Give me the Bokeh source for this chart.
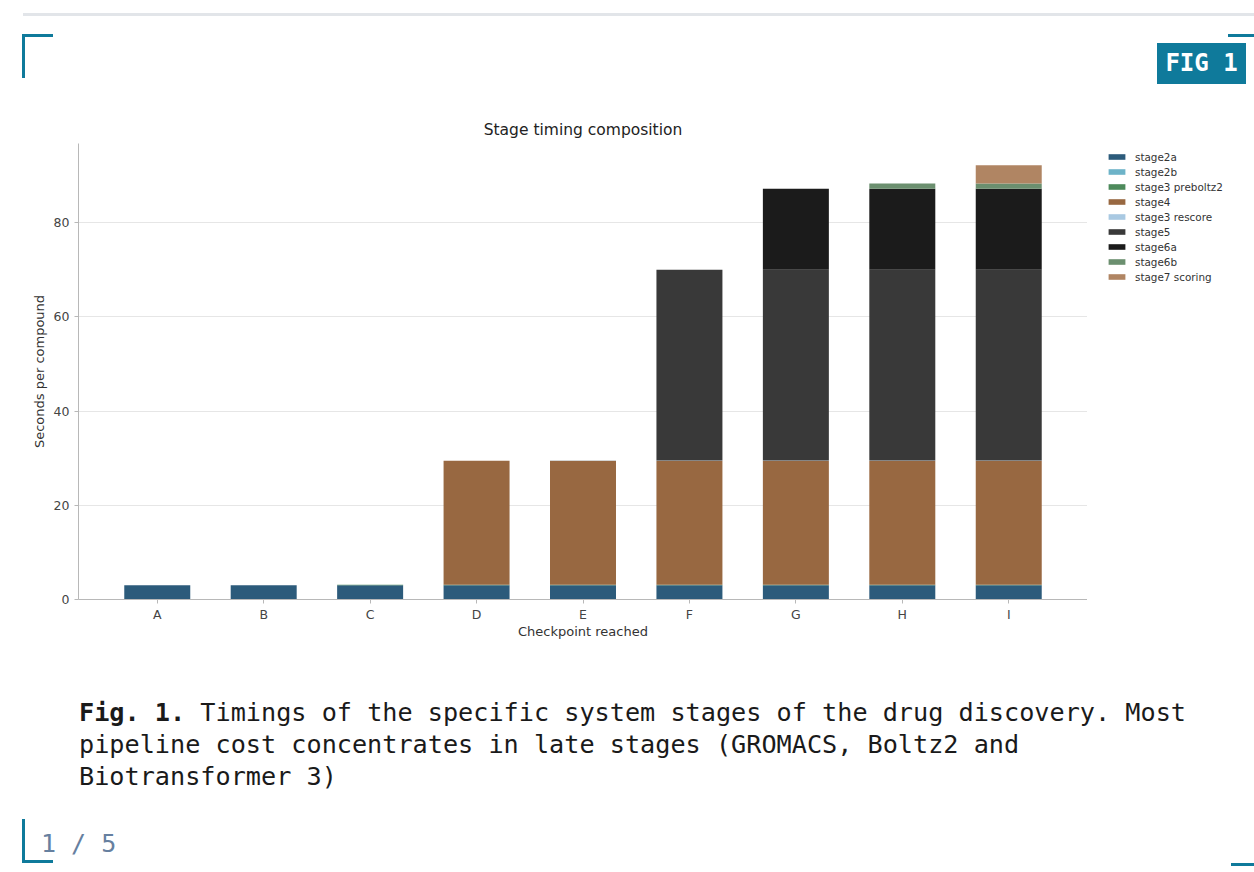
from bokeh.plotting import figure
from bokeh.models import (Div, Legend, LegendItem, ColumnDataSource, FactorRange,
                          Range1d, FixedTicker)
from bokeh.layouts import column, row
from bokeh.embed import file_html
from bokeh.resources import INLINE

# ---------------- data ----------------
checkpoints = ["A", "B", "C", "D", "E", "F", "G", "H", "I"]
stage_names = ["stage2a", "stage2b", "stage3 preboltz2", "stage4", "stage3 rescore",
               "stage5", "stage6a", "stage6b", "stage7 scoring"]
stage2a = [3.0, 3.0, 3.0, 3.0, 3.0, 3.0, 3.0, 3.0, 3.0]
stage2b = [0.0, 0.05, 0.05, 0.05, 0.05, 0.05, 0.05, 0.05, 0.05]
stage3_preboltz2 = [0.0, 0.0, 0.1, 0.1, 0.1, 0.1, 0.1, 0.1, 0.1]
stage4 = [0.0, 0.0, 0.0, 26.3, 26.3, 26.3, 26.3, 26.3, 26.3]
stage3_rescore = [0.0, 0.0, 0.0, 0.0, 0.05, 0.05, 0.05, 0.05, 0.05]
stage5 = [0.0, 0.0, 0.0, 0.0, 0.0, 40.5, 40.5, 40.5, 40.5]
stage6a = [0.0, 0.0, 0.0, 0.0, 0.0, 0.0, 17.2, 17.2, 17.2]
stage6b = [0.0, 0.0, 0.0, 0.0, 0.0, 0.0, 0.0, 1.1, 1.1]
stage7_scoring = [0.0, 0.0, 0.0, 0.0, 0.0, 0.0, 0.0, 0.0, 3.9]
stage_colors = ["#2c5b7b", "#6db3c8", "#4d8a5b", "#986841", "#a9c9e2",
                "#393939", "#1b1b1b", "#6b8f6f", "#b08563"]
y_ticks = [0, 20, 40, 60, 80]

series = [stage2a, stage2b, stage3_preboltz2, stage4, stage3_rescore,
          stage5, stage6a, stage6b, stage7_scoring]
data = {"checkpoint": checkpoints}
for name, vals in zip(stage_names, series):
    data[name] = vals
source = ColumnDataSource(data)

FONT = "DejaVu Sans"

# ---------------- main chart ----------------
p = figure(
    x_range=FactorRange(*checkpoints, range_padding=0.24, range_padding_units="absolute"),
    y_range=Range1d(0, 96.8),
    width=1087, height=552,
    output_backend="svg", toolbar_location=None,
    min_border_left=78, min_border_right=0, min_border_top=35, min_border_bottom=61,
    title="Stage timing composition",
    margin=0,
)
p.title.align = "center"
p.title.text_font = FONT
p.title.text_font_size = "15.5px"
p.title.text_font_style = "normal"
p.title.text_color = "#222222"

renderers = p.vbar_stack(stage_names, x="checkpoint", width=0.62, color=stage_colors,
                         source=source, line_color=None)

p.outline_line_color = None
p.xgrid.grid_line_color = None
p.ygrid.grid_line_color = "#e6e6e6"
p.ygrid.grid_line_width = 1
p.yaxis.ticker = FixedTicker(ticks=y_ticks)

for ax in (p.xaxis[0], p.yaxis[0]):
    ax.axis_line_color = "#b8b8b8"
    ax.major_tick_line_color = "#b8b8b8"
    ax.minor_tick_line_color = None
    ax.major_tick_out = 4
    ax.major_tick_in = 0
    ax.major_label_text_font = FONT
    ax.major_label_text_font_size = "12.5px"
    ax.major_label_text_color = "#444444"
    ax.axis_label_text_font = FONT
    ax.axis_label_text_font_size = "13px"
    ax.axis_label_text_font_style = "normal"
    ax.axis_label_text_color = "#333333"

p.xaxis.axis_label = "Checkpoint reached"
p.yaxis.axis_label = "Seconds per compound"
p.xaxis.major_label_standoff = 3
p.xaxis.axis_label_standoff = -1
p.yaxis.major_label_standoff = 5
p.yaxis.axis_label_standoff = 4

# ---------------- legend panel (same series, zero-width, kept out of view) ----------------
lg = figure(
    x_range=FactorRange(*checkpoints), y_range=Range1d(-1000, -999),
    width=167, height=552, output_backend="svg", toolbar_location=None,
    x_axis_location=None, y_axis_location=None,
    min_border_left=0, min_border_right=0, min_border_top=0, min_border_bottom=0,
    margin=0,
)
lg.outline_line_color = None
lg.grid.visible = False
lg_renderers = lg.vbar_stack(stage_names, x="checkpoint", width=0.0, color=stage_colors,
                             source=source, line_color=None)

items = [LegendItem(label=n, renderers=[r]) for n, r in zip(stage_names, lg_renderers)]
legend = Legend(items=items, location=(19, 315), orientation="vertical")
legend.label_text_font = FONT
legend.label_text_font_size = "10.4px"
legend.label_text_color = "#333333"
legend.glyph_width = 21
legend.glyph_height = 7
legend.label_height = 15
legend.label_standoff = 8
legend.spacing = 0
legend.padding = 0
legend.margin = 0
legend.border_line_color = None
legend.background_fill_alpha = 0
lg.add_layout(legend, "center")

# ---------------- page decorations ----------------
TEAL = "#0f7a9b"
top_html = f"""
<div style="position:relative;width:1254px;height:108px;">
 <div style="position:absolute;left:23px;top:13px;width:1231px;height:3px;background:#e2e5e9;"></div>
 <div style="position:absolute;left:22px;top:34px;width:31px;height:44px;border-left:3px solid {TEAL};border-top:3px solid {TEAL};"></div>
 <div style="position:absolute;left:1228px;top:34px;width:26px;height:3px;background:{TEAL};"></div>
 <div style="position:absolute;left:1157px;top:43px;width:89px;height:41px;background:{TEAL};color:#ffffff;font-family:'DejaVu Sans Mono';font-weight:bold;font-size:24px;line-height:41px;text-align:center;">FIG 1</div>
</div>
"""
bottom_html = f"""
<div style="position:relative;width:1254px;height:212px;">
 <div style="position:absolute;left:79px;top:37px;font-family:'DejaVu Sans Mono';font-size:25.2px;line-height:32px;color:#1a1a1a;white-space:nowrap;"><b>Fig. 1.</b> Timings of the specific system stages of the drug discovery. Most<br>pipeline cost concentrates in late stages (GROMACS, Boltz2 and<br>Biotransformer 3)</div>
 <div style="position:absolute;left:22px;top:159px;width:31px;height:44px;border-left:3px solid {TEAL};border-bottom:3px solid {TEAL};"></div>
 <div style="position:absolute;left:41px;top:171px;font-family:'DejaVu Sans Mono';font-size:25px;line-height:25px;color:#6680a0;white-space:nowrap;">1 / 5</div>
 <div style="position:absolute;left:1231px;top:203px;width:23px;height:3px;background:{TEAL};"></div>
</div>
"""
top_div = Div(text=top_html, width=1254, height=108, margin=0)
bottom_div = Div(text=bottom_html, width=1254, height=212, margin=0)

layout = column(top_div, row(p, lg, spacing=0, margin=0), bottom_div, spacing=0, margin=0)

open("out.html", "w").write(file_html(layout, INLINE))
